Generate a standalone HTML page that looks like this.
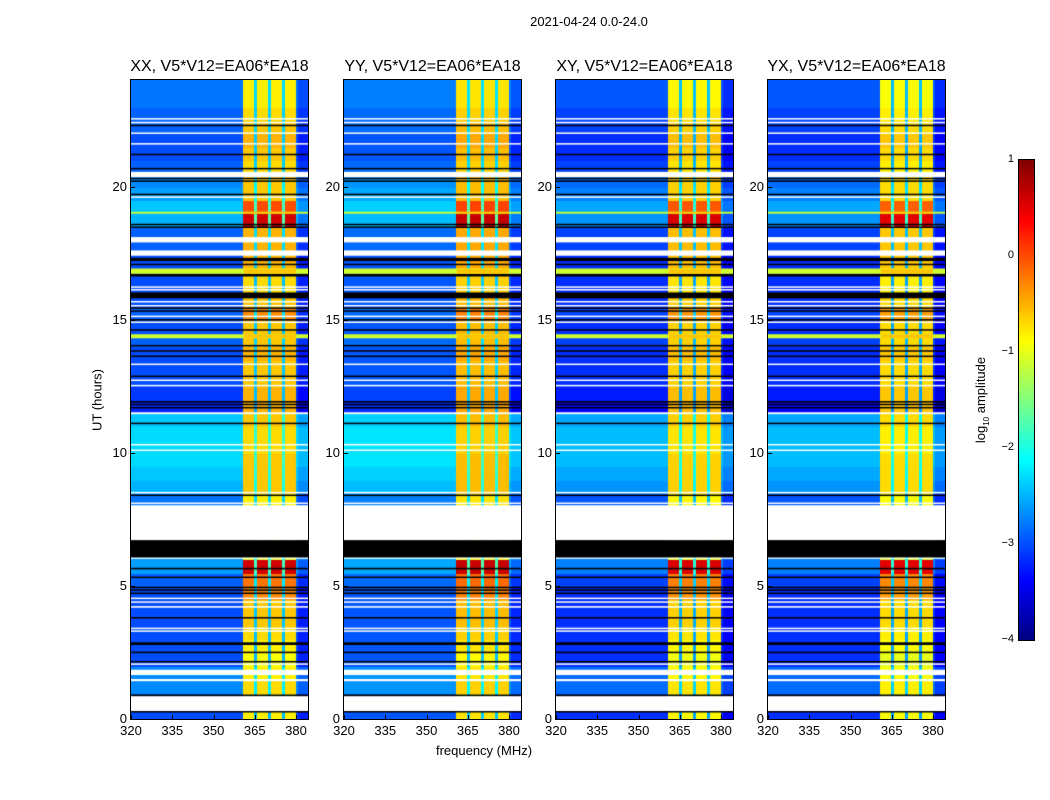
<!DOCTYPE html>
<html><head><meta charset="utf-8"><style>
body{margin:0;background:#fff;}
#root{position:relative;width:1050px;height:800px;background:#fff;font-family:"Liberation Sans",sans-serif;color:#000;overflow:hidden;}
.t{position:absolute;white-space:nowrap;}
canvas{position:absolute;}
.frame{position:absolute;border:1px solid #000;box-sizing:border-box;}
</style></head><body>
<div id="root">
<div class="t" style="left:489px;top:14px;font-size:13px;width:200px;text-align:center">2021-04-24 0.0-24.0</div>
<div class="t" style="left:97px;top:400px;font-size:13px;transform:translate(-50%,-50%) rotate(-90deg)">UT (hours)</div>
<div class="t" style="left:384px;top:743px;font-size:13px;width:200px;text-align:center">frequency (MHz)</div>
<canvas id="cbar" width="15" height="480" style="left:1019px;top:160px"></canvas>
<div class="frame" style="left:1018px;top:159px;width:17px;height:482px"></div>
<div class="t" style="left:982px;top:400px;font-size:13px;transform:translate(-50%,-50%) rotate(-90deg)">log<sub style="font-size:8px">10</sub> amplitude</div>
</div>
<script>
// ---- data ----
const panelTitles = ["XX, V5*V12=EA06*EA18","YY, V5*V12=EA06*EA18","XY, V5*V12=EA06*EA18","YX, V5*V12=EA06*EA18"];
const panelLeft = [131,344,556,768];
const xTicks = [320,335,350,365,380];
const yTicks = [0,5,10,15,20];
const cbarTicks = [1,0,-1,-2,-3,-4];
// background log amplitude per 0.5 h bin (0..24h)
const bgLevel = [-3.0,-2.9,-2.7,-2.7,-3.0,-3.0,-3.0,-3.0,-3.0,-3.0,-2.9,-2.6,-2.6,-2.6,-2.6,-2.6,-2.8,-2.5,-2.4,-2.3,-2.3,-2.3,-2.4,-3.2,-3.1,-3.0,-3.0,-3.0,-2.9,-3.0,-2.9,-3.0,-3.0,-3.0,-3.0,-2.9,-2.9,-2.5,-2.4,-2.6,-2.7,-2.9,-3.0,-3.0,-2.9,-2.9,-2.8,-2.8];
// band (361-380 MHz) log amplitude per 0.5 h bin
const bandLevel = [-0.8,-0.9,-0.7,-0.8,-0.9,-0.8,-0.7,-0.6,-0.6,-0.3,-0.2,0.6,-1,-1,-1,-1,-0.8,-0.6,-0.6,-0.6,-0.7,-0.7,-0.6,-0.5,-0.5,-0.6,-0.6,-0.5,-0.6,-0.6,-0.3,-0.6,-0.7,-0.7,-0.5,-0.5,-0.5,0.6,0.0,-0.6,-0.6,-0.7,-0.6,-0.5,-0.6,-0.7,-0.8,-0.8];
// per-panel offsets
const panelBgOffset = [0.0,0.05,-0.15,-0.15];
const panelBandOffset = [0.0,0.05,-0.05,-0.1];
// frequency bin centers (1 MHz) and band weight
const freqs = [];
for (let f=320; f<384; f++) freqs.push(f);
const colWeight = [0,0,0,0,0,0,0,0,0,0,0,0,0,0,0,0,0,0,0,0,0,0,0,0,0,0,0,0,0,0,0,0,0,0,0,0,0,0,0,0,0,1,1,1,1,0.25,1,1,1,1,0.25,1,1,1,1,0.25,1,1,1,1,0,-0.1,-0.1,-0.1];
// flagged rows: [startHour, endHour, 'w' white / 'k' black / 'y' bright]
const flags = [
[0.28,0.3,'k'],[0.3,0.86,'w'],[0.86,0.92,'k'],[1.42,1.5,'w'],[1.65,1.85,'w'],[2.04,2.09,'w'],[2.13,2.18,'k'],[2.48,2.53,'k'],[2.78,2.88,'k'],
[3.28,3.33,'w'],[3.38,3.43,'w'],[3.78,3.83,'k'],[4.18,4.24,'w'],[4.38,4.42,'w'],[4.52,4.56,'w'],[4.7,4.75,'k'],[4.82,4.87,'k'],[4.93,4.97,'k'],
[5.3,5.35,'k'],[5.62,5.68,'k'],[6.02,6.07,'w'],[6.07,6.72,'k'],[6.72,8.03,'w'],[8.08,8.13,'w'],[8.38,8.43,'k'],[8.48,8.53,'w'],
[10.08,10.12,'w'],[10.28,10.33,'w'],[11.08,11.13,'k'],[11.45,11.52,'w'],[11.68,11.72,'k'],[11.8,11.84,'k'],[11.9,11.94,'k'],
[12.5,12.55,'w'],[12.7,12.75,'w'],[12.85,12.9,'k'],[13.3,13.35,'w'],[13.6,13.65,'k'],[13.8,13.85,'k'],[14.0,14.05,'k'],[14.3,14.45,'y'],[14.6,14.64,'k'],
[14.88,14.93,'w'],[14.98,15.02,'k'],[15.1,15.15,'w'],[15.3,15.35,'k'],[15.42,15.46,'k'],[15.5,15.55,'w'],[15.65,15.7,'w'],[15.8,16.02,'k'],[16.1,16.15,'w'],[16.2,16.25,'w'],
[16.62,16.72,'k'],[16.72,16.92,'y'],[17.05,17.1,'k'],[17.2,17.32,'k'],[17.4,17.6,'w'],[17.9,18.1,'w'],[18.45,18.5,'k'],[18.55,18.6,'k'],[18.98,19.05,'y'],
[19.58,19.63,'w'],[19.68,19.73,'k'],[20.18,20.23,'k'],[20.28,20.33,'k'],[20.35,20.55,'w'],[20.65,20.7,'k'],[21.18,21.23,'k'],[21.58,21.63,'w'],[21.98,22.03,'w'],
[22.28,22.32,'k'],[22.38,22.43,'w'],[22.52,22.57,'w']];
// ---- scales ----
const PW=177, PT=80, PH=639;
function xScale(f){return (f-320)*2.75;}
function yScale(h){return PH - h*PH/24;}
function jet(v){
  let t=(v+4)/5; t=Math.max(0,Math.min(1,t));
  const c=x=>Math.max(0,Math.min(1,x));
  const r=c(1.5-Math.abs(4*t-3)), g=c(1.5-Math.abs(4*t-2)), b=c(1.5-Math.abs(4*t-1));
  return `rgb(${Math.round(r*255)},${Math.round(g*255)},${Math.round(b*255)})`;
}
const root=document.getElementById('root');
function txt(s,x,y,size,name,align){
  const d=document.createElement('div');
  d.className='t';
  d.textContent=s;
  d.style.fontSize=size+'px';
  d.style.top=(y-size*0.6)+'px';
  if(align==='right'){d.style.left=(x-60)+'px';d.style.width='60px';d.style.textAlign='right';}
  else {d.style.left=x+'px';d.style.transform='translateX(-50%)';}
  
  
  root.appendChild(d);
}
panelTitles.forEach((title,p)=>{
  const L=panelLeft[p];
  const cv=document.createElement('canvas');
  cv.width=PW; cv.height=PH;
  cv.style.left=L+'px'; cv.style.top=PT+'px';
  
  
  root.appendChild(cv);
  const ctx=cv.getContext('2d');
  for(let i=0;i<bgLevel.length;i++){
    const h0=i*0.5,h1=h0+0.5;
    const y0=yScale(h1), y1=yScale(h0);
    const bg=bgLevel[i]+panelBgOffset[p], band=bandLevel[i]+panelBandOffset[p];
    for(let j=0;j<freqs.length;j++){
      const v=bg+colWeight[j]*(band-bg);
      ctx.fillStyle=jet(v);
      const x0=xScale(freqs[j]), x1=xScale(freqs[j]+1);
      ctx.fillRect(Math.floor(x0),Math.floor(y0),Math.ceil(x1-x0)+1,Math.ceil(y1-y0)+1);
    }
  }
  flags.forEach(fl=>{
    const y0=yScale(fl[1]), y1=yScale(fl[0]);
    const hh=Math.max(1.5,y1-y0);
    if(fl[2]==='y'){
      ctx.fillStyle=jet(-1.1);ctx.fillRect(0,y0,PW,hh);
      ctx.fillStyle=jet(-0.6);ctx.fillRect(xScale(361),y0,xScale(380)-xScale(361),hh);
    } else {
      ctx.fillStyle=fl[2]==='w'?'#fff':'#000';
      ctx.fillRect(0,y0,PW,hh);
    }
  });
  const fr=document.createElement('div');
  fr.className='frame';
  fr.style.left=(L-1)+'px';fr.style.top=(PT-1)+'px';fr.style.width=(PW+2)+'px';fr.style.height=(PH+2)+'px';
  
  
  root.appendChild(fr);
  txt(title,L+PW/2,68,16,'panel-title');
  xTicks.forEach(t=>{
    txt(String(t),L+xScale(t),731,13,'x-tick-label');
    const tk=document.createElement('div');
    tk.style.cssText=`position:absolute;left:${L+xScale(t)}px;top:${PT+PH-4}px;width:1px;height:4px;background:#000`;
    
    
    root.appendChild(tk);
  });
  yTicks.forEach(t=>{
    txt(String(t),L-4,PT+yScale(t),13,'y-tick-label','right');
    const tk=document.createElement('div');
    tk.style.cssText=`position:absolute;left:${L}px;top:${PT+yScale(t)}px;width:4px;height:1px;background:#000`;
    
    
    root.appendChild(tk);
  });
});
// colorbar
const cb=document.getElementById('cbar').getContext('2d');
for(let y=0;y<480;y++){cb.fillStyle=jet(1-5*y/480);cb.fillRect(0,y,15,1);}
cbarTicks.forEach(t=>{
  const y=160+(1-t)*96;
  txt(t<0?'\u2212'+Math.abs(t):String(t),1014,y,11,'colorbar-tick-label','right');
});
</script>
</body></html>
